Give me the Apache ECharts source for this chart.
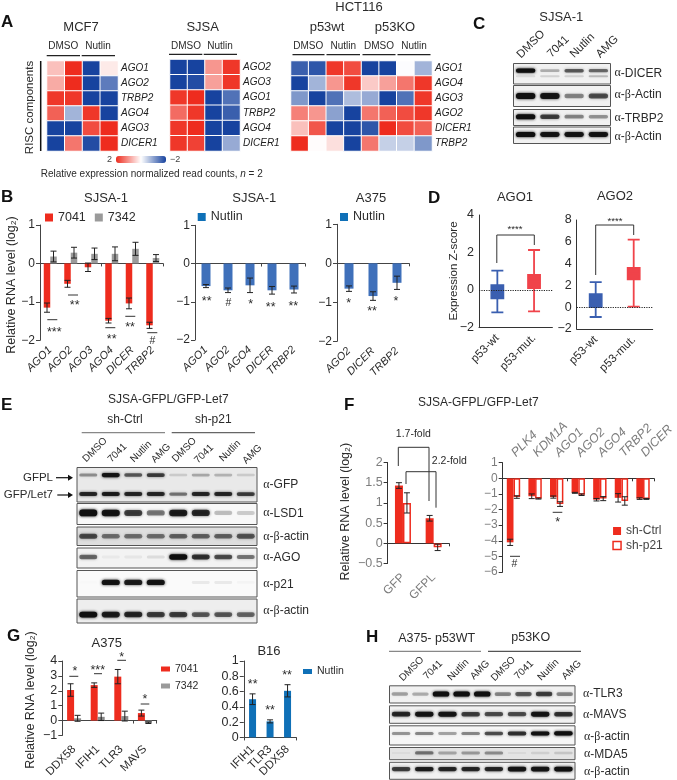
<!DOCTYPE html>
<html>
<head>
<meta charset="utf-8">
<style>html,body{margin:0;padding:0;background:#fff}#c{width:677px;height:780px}</style>
<script src="https://cdn.jsdelivr.net/npm/echarts@6/dist/echarts.min.js"></script>
</head>
<body>
<div id="c"></div>
<script>
// ---------- DATA: panel A heat maps ----------
const mcf7Rows = ['AGO1','AGO2','TRBP2','AGO4','AGO3','DICER1'];
const mcf7Vals = [[0.6,2,-2,0.2],[0.8,2,-2,-1.4],[1.9,1.9,-2,-2],[1.5,-0.8,1.9,-2],[-2,-2,1.7,2],[-2,1.3,-1.9,2]];
const sjsaRows = ['AGO2','AGO3','AGO1','TRBP2','AGO4','DICER1'];
const sjsaVals = [[-2,-2,1.0,1.9],[-2,-1.9,0.9,1.9],[1.9,2,-2,-1.5],[1.4,1.9,-2,-1.7],[1.9,2,-2,-2],[1.9,1.8,-2,-0.9]];
const hctRows = ['AGO1','AGO4','AGO3','AGO2','DICER1','TRBP2'];
const hctVals = [[-1.7,-1.8,1.9,1.7,-2,-2,-0.03,-0.8],[-2,-0.8,1.0,1.9,0.5,0.9,1.3,1.9],[-1.1,-2,-1.5,-0.7,-0.9,-2,-1.5,1.9],[1.2,1.0,-1.0,-2,1.3,1.5,1.7,1.9],[0.6,1.6,-2,-2,-1.8,2,1.7,1.5],[2,0.03,0.3,-2,1.3,-0.5,-0.5,-1.1]];
// ---------- panel B ----------
const b1Genes = ['AGO1','AGO2','AGO3','AGO4','DICER','TRBP2'];
const b1A = [-1.15,-0.53,-0.1,-1.49,-1.04,-1.61];
const b1AErr = [0.12,0.09,0.11,0.06,0.14,0.08];
const b1B = [0.18,0.28,0.25,0.25,0.38,0.14];
const b1BErr = [0.14,0.14,0.15,0.18,0.17,0.09];
const b2Genes = ['AGO1','AGO2','AGO4','DICER','TRBP2'];
const b2Vals = [-0.59,-0.7,-0.57,-0.7,-0.68];
const b2Err = [0.04,0.06,0.19,0.1,0.09];
const b3Genes = ['AGO2','DICER','TRBP2'];
const b3Vals = [-0.65,-0.84,-0.5];
const b3Err = [0.07,0.11,0.17];
// ---------- panel D: [min, q1, median, q3, max] ----------
const dCats = ['p53-wt','p53-mut.'];
const dAgo1Wt = [-1.2,-0.45,-0.1,0.25,1.03];
const dAgo1Mut = [-1.15,0.1,0.45,0.8,2.13];
const dAgo2Wt = [-0.9,0,0.65,1.2,2.3];
const dAgo2Mut = [0.05,2.55,3.1,3.6,6.2];
// ---------- panel F ----------
const f1Cats = ['GFP','GFPL'];
const f1Ctrl = [1.43,0.62];
const f1CtrlErr = [0.07,0.07];
const f1P21 = [1.0,-0.1];
const f1P21Err = [0.25,0.08];
const f2Cats = ['PLK4','KDM1A','AGO1','AGO2','AGO4','TRBP2','DICER'];
const f2Ctrl = [-4.1,-1.15,-1.2,-0.93,-1.37,-1.25,-1.3];
const f2CtrlErr = [0.2,0.15,0.07,0.03,0.08,0.27,0.05];
const f2P21 = [-1.2,-1.3,-1.65,-1.05,-1.3,-1.45,-1.32];
const f2P21Err = [0.08,0.03,0.15,0.05,0.13,0.27,0.03];
// ---------- panel G ----------
const g1Cats = ['DDX58','IFIH1','TLR3','MAVS'];
const g1A = [2.05,2.38,2.95,0.5];
const g1AErr = [0.42,0.15,0.48,0.2];
const g1B = [0.15,0.25,0.3,-0.15];
const g1BErr = [0.2,0.25,0.33,0.05];
const g2Cats = ['IFIH1','TLR3','DDX58'];
const g2Vals = [0.5,0.21,0.61];
const g2Err = [0.07,0.02,0.08];
// ---------- blot band intensities per lane ----------
const cDicer = [1,0.35,0.65,0.6];
const cDicerFaint = [0.15,0.2,0.2,0.3];
const cActin1 = [1,0.95,0.5,0.7];
const cTrbp2 = [1,0.75,0.5,0.45];
const cActin2 = [1,0.95,0.95,0.95];
const eGfpl = [0.45,0.95,0.65,0.75,0.2,0.35,0.3,0.2];
const eGfpLet7 = [0.85,0.9,0.85,0.85,0.55,0.85,0.85,0.75];
const eLsd1 = [1,0.95,0.75,0.55,0.9,0.85,0.3,0.25];
const eActin1 = [0.7,0.55,0.55,0.55,0.6,0.6,0.6,0.65];
const eAgo = [0.6,0.08,0.1,0.15,1,0.8,0.7,0.55];
const eP21 = [0.02,0.95,0.9,0.95,0,0.12,0.12,0.05];
const eActin2 = [1,0.9,0.85,0.75,0.75,0.65,0.65,0.6];
const hTlr3 = [0.4,0.35,1,1,1,0.5,0.65,0.75,0.5];
const hMavs = [0.85,0.95,0.95,0.75,0.7,0.7,0.95,0.8];
const hActin1 = [0.45,0.5,0.4,0.5,0.7,0.8,0.98,1];
const hMda5 = [0.08,0.55,0.35,0.4,0.45,0.1,0.15,0.2];
const hActin2 = [0.75,0.9,0.85,0.85,0.85,0.95,0.95,1];
const laneLabels = ['DMSO','7041','Nutlin','AMG'];

// ---------- builders ----------
const FONT = "'Liberation Sans', Arial, sans-serif";
const DARK = '#2b2b2b', RED = '#ee2c1e', GREY = '#9a9a9a', BLUE = '#3f70ba', BLUE2 = '#0f70b7', GT = '#7d7d7d';
const grids = [], xAxes = [], yAxes = [], series = [], legends = [], gfx = [], heatIdx = [];
const minus = v => String(v).replace('-', '\u2212');

function grid(left, top, width, height, extra) {
  grids.push(Object.assign({left, top, width, height}, extra || {}));
  return grids.length - 1;
}
function heat(left, top, w, h, rows, vals) {
  const g = grid(left, top, w, h);
  const xi = xAxes.length, yi = yAxes.length;
  xAxes.push({gridIndex: g, type: 'category', show: false, data: vals[0].map((_, i) => 'c' + i)});
  yAxes.push({gridIndex: g, type: 'category', inverse: true, position: 'right', data: rows,
    axisLine: {show: false}, axisTick: {show: false},
    axisLabel: {fontFamily: FONT, fontSize: 10, fontStyle: 'italic', color: '#222', margin: 3, interval: 0}});
  const data = [];
  vals.forEach((r, y) => r.forEach((v, x) => data.push([x, y, v])));
  heatIdx.push(series.length);
  series.push({type: 'heatmap', xAxisIndex: xi, yAxisIndex: yi, data, progressive: 0,
    itemStyle: {borderColor: '#fff', borderWidth: 1}, emphasis: {disabled: true}});
}
function errSeries(xi, yi, vals, errs, off, cap, color) {
  series.push({type: 'custom', xAxisIndex: xi, yAxisIndex: yi, silent: true, z: 5,
    encode: {x: 0, y: 1},
    data: vals.map((v, i) => [i, v, errs[i]]),
    renderItem(params, api) {
      const i = api.value(0), v = api.value(1), e = api.value(2);
      const x = api.coord([i, v])[0] + off;
      const hi = api.coord([i, v + e])[1], lo = api.coord([i, v - e])[1];
      const st = {stroke: color, lineWidth: 1, fill: null};
      return {type: 'group', children: [
        {type: 'line', shape: {x1: x, y1: hi, x2: x, y2: lo}, style: st},
        {type: 'line', shape: {x1: x - cap, y1: hi, x2: x + cap, y2: hi}, style: st},
        {type: 'line', shape: {x1: x - cap, y1: lo, x2: x + cap, y2: lo}, style: st}
      ]};
    }});
}
function bars(c) {
  const g = grid(c.left, c.top, c.w, c.h);
  const xi = xAxes.length, yi = yAxes.length;
  const lineC = c.axisColor || '#444', labelC = c.labelColor || DARK;
  xAxes.push({gridIndex: g, type: 'category', data: c.cats, position: 'bottom',
    axisLine: {onZero: true, lineStyle: {color: lineC, width: 1}},
    axisTick: {show: true, length: 3, lineStyle: {color: lineC}}, axisLabel: {show: false}});
  const top = c.labelPos === 'top';
  xAxes.push({gridIndex: g, type: 'category', data: c.cats, position: c.labelPos || 'bottom',
    axisLine: {show: false, onZero: false}, axisTick: {show: false},
    axisLabel: Object.assign({interval: 0, rotate: 45, fontFamily: FONT, fontSize: c.catSize || 11,
      fontStyle: c.italic ? 'italic' : 'normal', color: c.catColor || labelC, margin: c.margin || 7},
      top ? {rotate: -45, align: 'left', verticalAlign: 'middle'} : {})});
  yAxes.push({gridIndex: g, type: 'value', min: c.min, max: c.max, interval: c.interval,
    axisLine: {show: true, lineStyle: {color: lineC}}, axisTick: {show: true, length: 4, lineStyle: {color: lineC}},
    splitLine: {show: false},
    axisLabel: {formatter: minus, fontFamily: FONT, fontSize: c.tickSize || 12, color: labelC, margin: 5}});
  const n = c.series.length;
  c.series.forEach(s => {
    series.push({type: 'bar', name: s.name, xAxisIndex: xi, yAxisIndex: yi, data: s.vals,
      barWidth: c.barW, barGap: '0%', silent: true,
      itemStyle: {color: s.hollow ? '#fff' : s.color, borderColor: s.color, borderWidth: s.hollow ? 1.5 : 0}});
  });
  c.series.forEach((s, i) => {
    const off = n === 2 ? (i === 0 ? -c.barW / 2 : c.barW / 2) : 0;
    errSeries(xi, yi, s.vals, s.errs, off, c.cap || 3, '#222');
  });
}
function legend(left, top, names, opt) {
  legends.push(Object.assign({left, top, padding: 0, selectedMode: false, icon: 'rect',
    itemWidth: 8, itemHeight: 8, itemGap: 9, data: names,
    textStyle: {fontFamily: FONT, fontSize: 12.5, color: DARK}}, opt || {}));
}
function box(left, top, w, h, min, max, interval, wt, mut) {
  const g = grid(left, top, w, h);
  const xi = xAxes.length, yi = yAxes.length;
  xAxes.push({gridIndex: g, type: 'category', data: dCats,
    axisLine: {onZero: false, lineStyle: {color: '#333'}},
    axisTick: {alignWithLabel: true, length: 4, lineStyle: {color: '#333'}},
    axisLabel: {interval: 0, rotate: 45, fontFamily: FONT, fontSize: 11.5, color: DARK, margin: 9}});
  yAxes.push({gridIndex: g, type: 'value', min, max, interval,
    axisLine: {show: true, lineStyle: {color: '#333'}}, axisTick: {length: 4, lineStyle: {color: '#333'}},
    splitLine: {show: false},
    axisLabel: {formatter: minus, fontFamily: FONT, fontSize: 12.5, color: DARK, margin: 5}});
  const it = (value, color) => ({value, itemStyle: {color, borderColor: color, borderWidth: 1.8}});
  series.push({type: 'boxplot', xAxisIndex: xi, yAxisIndex: yi, boxWidth: [12, 12], silent: true,
    data: [it(wt, '#3a5fb0'), it(mut, '#f0434a')],
    markLine: {silent: true, symbol: 'none', animation: false, label: {show: false},
      lineStyle: {type: 'dotted', color: '#222', width: 1.2}, data: [{yAxis: 0}]}});
}
function blot(left, top, w, h, lanes, bands, bg) {
  const g = grid(left, top, w, h, {show: true, backgroundColor: bg || '#f1f1f1', borderColor: '#555', borderWidth: 1});
  const xi = xAxes.length, yi = yAxes.length;
  xAxes.push({gridIndex: g, type: 'category', show: false, data: Array.from({length: lanes}, (_, i) => 'L' + i)});
  yAxes.push({gridIndex: g, type: 'value', show: false, min: 0, max: 1, inverse: true, splitLine: {show: false}});
  bands.forEach(b => {
    series.push({type: 'custom', xAxisIndex: xi, yAxisIndex: yi, silent: true, clip: true,
      encode: {x: 0, y: 1},
      data: b.v.map((v, i) => [i, b.p, v]),
      renderItem(params, api) {
        const c = api.coord([api.value(0), api.value(1)]);
        const bw = api.size([1, 0])[0] * 0.8, v = api.value(2);
        const th = b.t * (0.4 + 0.45 * v);
        const col = 'rgba(15,15,15,' + Math.pow(v, 1.25).toFixed(3) + ')';
        return {type: 'rect', shape: {x: c[0] - bw / 2, y: c[1] - th / 2, width: bw, height: th, r: th / 2},
          style: {fill: col, shadowBlur: 3, shadowColor: col}};
      }});
  });
}
// annotation helpers
function T(text, x, y, o) {
  o = o || {};
  const st = {text, x: 0, y: 0, fill: o.color || DARK, textAlign: o.align || 'center', verticalAlign: 'middle',
    fontFamily: FONT, fontSize: o.size || 12, fontWeight: o.weight || 'normal', fontStyle: o.style || 'normal'};
  if (o.rich) st.rich = o.rich;
  gfx.push({type: 'text', x, y, rotation: o.rot || 0, z: 20, silent: true, style: st});
}
function L(x1, y1, x2, y2, color, width) {
  gfx.push({type: 'line', z: 20, silent: true, shape: {x1, y1, x2, y2}, style: {stroke: color || '#222', lineWidth: width || 1}});
}
function P(points, color, width) {
  gfx.push({type: 'polyline', z: 20, silent: true, shape: {points}, style: {stroke: color || '#333', lineWidth: width || 1, fill: null}});
}
function sig(text, x, y) { T(text, x, /\*/.test(text) ? y + 2.5 : y, {size: text === '#' ? 10.5 : 12.5}); }
function letter(t, x, y) { T(t, x, y, {size: 17, weight: 'bold', color: '#111', align: 'left'}); }
function ab(text, x, y, size) {
  T(text, x, y, {align: 'left', size: size || 12, rich: {a: {fontFamily: "'Liberation Serif', serif", fontSize: size || 12, fill: DARK, color: DARK}, b: {fontFamily: FONT, fontSize: size || 12, color: DARK}}});
}
const YL = 'Relative RNA level (log\u2082)';

// ---------- PANEL A ----------
heat(47, 61, 71, 90, mcf7Rows, mcf7Vals);
heat(170, 59.5, 70, 91.5, sjsaRows, sjsaVals);
heat(291, 61, 141, 90, hctRows, hctVals);
letter('A', 1, 22);
T('MCF7', 81, 27.5, {size: 13}); T('SJSA', 202.7, 27.5, {size: 13});
T('HCT116', 359, 7, {size: 13}); T('p53wt', 327, 27, {size: 13}); T('p53KO', 395, 27, {size: 13});
[[63.3,'DMSO'],[98,'Nutlin'],[186,'DMSO'],[220,'Nutlin'],[308.3,'DMSO'],[343.3,'Nutlin'],[379,'DMSO'],[414,'Nutlin']].forEach(a => T(a[1], a[0], 46, {size: 10}));
[[46.7,80,55.7],[81.7,115,55.7],[169,202.3,54.3],[203.7,237,54.3],[292.5,324.5,54.7],[326.5,360,54.7],[362.5,395.5,54.7],[397.5,430.5,54.7]].forEach(a => L(a[0], a[2], a[1], a[2], '#222', 1.2));
T('RISC components', 30, 107.5, {size: 11.5, rot: Math.PI / 2});
L(40.7, 61, 40.7, 151, '#111', 1.5);
T('Relative expression normalized read counts, {i|n} = 2', 40.7, 174.5, {align: 'left', size: 10, rich: {i: {fontStyle: 'italic', fontSize: 10, fontFamily: FONT, color: DARK}}});

// ---------- PANEL B ----------
letter('B', 1, 197);
T('SJSA-1', 106, 198, {size: 13}); T('SJSA-1', 254.3, 198, {size: 13}); T('A375', 371, 198, {size: 13});
T(YL, 11.5, 285, {size: 12.5, rot: Math.PI / 2});
bars({left: 40, top: 225, w: 123, h: 115.3, min: -2, max: 1, interval: 1, cats: b1Genes, barW: 6.5, italic: true, margin: 8,
  series: [{name: '7041', vals: b1A, errs: b1AErr, color: RED}, {name: '7342', vals: b1B, errs: b1BErr, color: GREY}]});
bars({left: 195, top: 225.3, w: 110, h: 114.7, min: -2, max: 1, interval: 1, cats: b2Genes, barW: 9, italic: true, margin: 8,
  series: [{name: 'Nutlin', vals: b2Vals, errs: b2Err, color: BLUE}]});
bars({left: 337, top: 224.3, w: 72, h: 117, min: -2, max: 1, interval: 1, cats: b3Genes, barW: 9, italic: true, margin: 8,
  series: [{name: 'Nutlin', vals: b3Vals, errs: b3Err, color: BLUE}]});
legend(45, 211, [{name: '7041', itemStyle: {color: RED}}, {name: '7342', itemStyle: {color: GREY}}]);
legend(197.7, 210.5, [{name: 'Nutlin', itemStyle: {color: BLUE2}}]);
legend(340, 210.5, [{name: 'Nutlin', itemStyle: {color: BLUE2}}]);
[[47.3,57.3,319.7],[68,78,295],[105.3,115.3,327.7],[125.3,135.3,316.3],[147.3,157.3,332.7]].forEach(a => L(a[0], a[2], a[1], a[2], '#333', 1));
sig('***', 54.3, 330); sig('**', 74.7, 303.3); sig('**', 111.7, 336.7); sig('**', 130, 325); sig('#', 152.3, 341);
sig('**', 206.7, 299.3); sig('#', 228.3, 302.7); sig('*', 250.7, 302.3); sig('**', 270.7, 305.3); sig('**', 293.3, 303.7);
sig('*', 348.7, 301); sig('**', 372, 309.3); sig('*', 396, 299.3);

// ---------- PANEL C ----------
letter('C', 473, 24);
T('SJSA-1', 561.3, 17.5, {size: 13});
[[531,44.3,'DMSO'],[558.3,46.7,'7041'],[582.3,45.7,'Nutlin'],[607.3,46.7,'AMG']].forEach(a => T(a[2], a[0], a[1], {size: 11.5, rot: Math.PI / 4}));
blot(513.5, 63.5, 97, 20.5, 4, [{p: 0.35, t: 5, v: cDicer}, {p: 0.62, t: 4, v: cDicerFaint}]);
blot(513.5, 85.5, 97, 21, 4, [{p: 0.5, t: 7, v: cActin1}]);
blot(513.5, 109.5, 97, 16, 4, [{p: 0.45, t: 6, v: cTrbp2}]);
blot(513.5, 127, 97, 16.5, 4, [{p: 0.45, t: 6, v: cActin2}]);
ab('{a|\u03b1}-{b|DICER}', 614.5, 73.3); ab('{a|\u03b1}-{a|\u03b2}-{b|Actin}', 614.5, 95);
ab('{a|\u03b1}-{b|TRBP2}', 614.5, 118.3); ab('{a|\u03b1}-{a|\u03b2}-{b|Actin}', 614.5, 137);

// ---------- PANEL D ----------
letter('D', 428, 198);
T('AGO1', 515, 197, {size: 13}); T('AGO2', 615, 196, {size: 13});
T('Expression Z-score', 454, 271, {size: 11.5, rot: Math.PI / 2});
box(479, 215, 73.4, 112.3, -2, 4, 2, dAgo1Wt, dAgo1Mut);
box(576.7, 220, 76, 109, -2, 8, 2, dAgo2Wt, dAgo2Mut);
P([[496.8,263],[496.8,235],[534.3,235],[534.3,245]]);
P([[595.7,275],[595.7,225],[633.7,225],[633.7,235]]);
T('****', 515, 229, {size: 9.5}); T('****', 615, 221, {size: 9.5});

// ---------- PANEL E ----------
letter('E', 1, 405);
T('SJSA-GFPL/GFP-Let7', 168.3, 400, {size: 12});
T('sh-Ctrl', 125, 419.5, {size: 12}); T('sh-p21', 213.3, 420, {size: 12});
L(81.7, 432.7, 165, 432.7, '#888', 1.2); L(171.7, 432.7, 255, 432.7, '#666', 1.2);
[[95,450,0],[117.3,453,1],[141,451.7,2],[161,453.3,3],[184.3,450,0],[204,454,1],[230,451,2],[252.3,454.3,3]].forEach(a => T(laneLabels[a[2]], a[0], a[1], {size: 10, rot: Math.PI / 4}));
blot(77, 467.5, 180, 34.5, 8, [{p: 0.22, t: 5, v: eGfpl}, {p: 0.77, t: 5, v: eGfpLet7}], '#e9e9e9');
blot(77, 503.5, 180, 21, 8, [{p: 0.45, t: 8, v: eLsd1}], '#f8f8f8');
blot(77, 527, 180, 18.5, 8, [{p: 0.5, t: 7, v: eActin1}], '#dedede');
blot(77, 548, 180, 20, 8, [{p: 0.45, t: 6.5, v: eAgo}], '#f3f3f3');
blot(77, 570.5, 180, 26.5, 8, [{p: 0.45, t: 6.5, v: eP21}], '#fafafa');
blot(77, 599, 180, 24, 8, [{p: 0.65, t: 7, v: eActin2}], '#eeeeee');
T('GFPL', 53, 477.7, {size: 11.5, align: 'right'}); T('GFP/Let7', 53, 495, {size: 11.5, align: 'right'});
[[56, 477.7], [57.3, 495]].forEach(a => {
  L(a[0], a[1], 70, a[1], '#111', 1.2);
  gfx.push({type: 'polygon', z: 20, silent: true, shape: {points: [[73, a[1]], [68, a[1] - 3], [68, a[1] + 3]]}, style: {fill: '#111'}});
});
ab('{a|\u03b1}-{b|GFP}', 263.3, 485); ab('{a|\u03b1}-{b|LSD1}', 263.3, 513.3); ab('{a|\u03b1}-{a|\u03b2}-{b|actin}', 263.3, 536.7);
ab('{a|\u03b1}-{b|AGO}', 263.3, 557.3); ab('{a|\u03b1}-{b|p21}', 263.3, 584.3); ab('{a|\u03b1}-{a|\u03b2}-{b|actin}', 263.3, 611);

// ---------- PANEL F ----------
letter('F', 344, 405.5);
T('SJSA-GFPL/GFP-Let7', 478.3, 402.7, {size: 12});
T(YL, 346, 511.7, {size: 12.5, rot: Math.PI / 2});
bars({left: 387.6, top: 462.5, w: 61.4, h: 101, min: -0.5, max: 2, interval: 0.5, cats: f1Cats, barW: 8, labelColor: GT, axisColor: '#333', catSize: 12, tickSize: 12.5, margin: 12,
  series: [{name: 'sh-Ctrl', vals: f1Ctrl, errs: f1CtrlErr, color: RED}, {name: 'sh-p21', vals: f1P21, errs: f1P21Err, color: RED, hollow: true}]});
bars({left: 502.7, top: 462.7, w: 154.7, h: 109.3, min: -6, max: 1, interval: 1, cats: f2Cats, barW: 6.7, labelColor: GT, axisColor: '#333', catSize: 12.5, tickSize: 12, italic: true, labelPos: 'top', margin: 8,
  series: [{name: 'sh-Ctrl', vals: f2Ctrl, errs: f2CtrlErr, color: RED}, {name: 'sh-p21', vals: f2P21, errs: f2P21Err, color: RED, hollow: true}]});
legend(612.3, 525, [{name: 'sh-Ctrl', itemStyle: {color: RED, borderWidth: 0}}, {name: 'sh-p21', itemStyle: {color: '#fff', borderColor: RED, borderWidth: 1.5}}], {orient: 'vertical', itemGap: 2.5, textStyle: {fontFamily: FONT, fontSize: 12, color: '#444'}});
T('1.7-fold', 413.3, 434.3, {size: 10.5}); T('2.2-fold', 449.3, 460.7, {size: 10.5});
P([[398.3,466],[398.3,447.3],[429,447.3],[429,501]]);
P([[406,484],[406,471.7],[436,471.7],[436,507.7]]);
L(552.7, 512.3, 562.3, 512.3, '#333', 1); L(510, 556.3, 520, 556.3, '#333', 1);
sig('*', 557.7, 520); sig('#', 514.3, 564.3);

// ---------- PANEL G ----------
letter('G', 7, 636.7);
T('A375', 106.7, 643, {size: 13}); T('B16', 269, 651, {size: 13});
T(YL, 30.7, 700, {size: 12.5, rot: Math.PI / 2});
bars({left: 62.3, top: 661, w: 94.4, h: 77.3, min: -1, max: 4, interval: 1, cats: g1Cats, barW: 7, catSize: 11.5, tickSize: 12.5, margin: 12,
  series: [{name: '7041', vals: g1A, errs: g1AErr, color: RED}, {name: '7342', vals: g1B, errs: g1BErr, color: '#8a8a8a'}]});
bars({left: 243.8, top: 661, w: 52.5, h: 76.7, min: 0, max: 1, interval: 0.2, cats: g2Cats, barW: 7, catSize: 11.5, tickSize: 12.5, margin: 10,
  series: [{name: 'Nutlin', vals: g2Vals, errs: g2Err, color: BLUE2}]});
legend(161, 663.5, [{name: '7041', itemStyle: {color: RED}}, {name: '7342', itemStyle: {color: GREY}}], {orient: 'vertical', itemWidth: 9, itemHeight: 5, itemGap: 6, textStyle: {fontFamily: FONT, fontSize: 10.5, color: DARK}});
legend(303, 666, [{name: 'Nutlin', itemStyle: {color: BLUE2}}], {itemWidth: 9, itemHeight: 5, textStyle: {fontFamily: FONT, fontSize: 10.5, color: DARK}});
[[69.3,78.3,676.3],[94,102,673.7],[117.3,126,660.3],[140.7,149.3,704]].forEach(a => L(a[0], a[2], a[1], a[2], '#333', 1));
sig('*', 75, 669); sig('***', 97.7, 667.7); sig('*', 121.7, 655); sig('*', 145, 697.3);
sig('**', 252.7, 682.3); sig('**', 270, 708.3); sig('**', 287, 672.7);

// ---------- PANEL H ----------
letter('H', 366, 637.5);
T('A375- p53WT', 436.7, 639, {size: 12.5}); T('p53KO', 530.7, 638, {size: 12.5});
L(389, 651.3, 481, 651.3, '#888', 1.2); L(488, 651.3, 581, 651.3, '#555', 1.2);
[[411.7,669,0],[433,670,1],[458.3,670,2],[480,670,3],[503.3,669,0],[524,670,1],[548.3,670,2],[571.7,670,3]].forEach(a => T(laneLabels[a[2]], a[0], a[1], {size: 10, rot: Math.PI / 4}));
blot(389.5, 685.8, 185.5, 17.2, 9, [{p: 0.48, t: 6, v: hTlr3}]);
blot(389.5, 705.8, 185.5, 17.5, 8, [{p: 0.48, t: 6, v: hMavs}]);
blot(389.5, 725.8, 185.5, 19.2, 8, [{p: 0.4, t: 5, v: hActin1}], '#f6f6f6');
blot(389.5, 747.5, 185.5, 12.2, 8, [{p: 0.45, t: 5, v: hMda5}], '#e4e4e4');
blot(389.5, 762.3, 185.5, 17, 8, [{p: 0.4, t: 5.5, v: hActin2}]);
ab('{a|\u03b1}-{b|TLR3}', 583, 694); ab('{a|\u03b1}-{b|MAVS}', 583, 715); ab('{a|\u03b1}-{a|\u03b2}-{b|actin}', 584, 736.7);
ab('{a|\u03b1}-{b|MDA5}', 584, 754.3); ab('{a|\u03b1}-{a|\u03b2}-{b|actin}', 584, 771.7);

// ---------- CHART ----------
const chart = echarts.init(document.getElementById('c'), null, {renderer: 'canvas'});
chart.setOption({
  animation: false,
  backgroundColor: '#fff',
  textStyle: {fontFamily: FONT},
  grid: grids, xAxis: xAxes, yAxis: yAxes, series, legend: legends,
  visualMap: [{type: 'continuous', seriesIndex: heatIdx, min: -2, max: 2, inverse: true, orient: 'horizontal',
    left: 107, top: 155, itemWidth: 7, itemHeight: 50, text: ['2', '\u22122'], textGap: 4, calculable: false, realtime: false, padding: 0,
    textStyle: {fontFamily: FONT, fontSize: 9, color: '#444'},
    inRange: {color: ['#17439f', '#ffffff', '#ee2c1e']}}],
  graphic: {elements: gfx}
});
</script>
</body>
</html>
